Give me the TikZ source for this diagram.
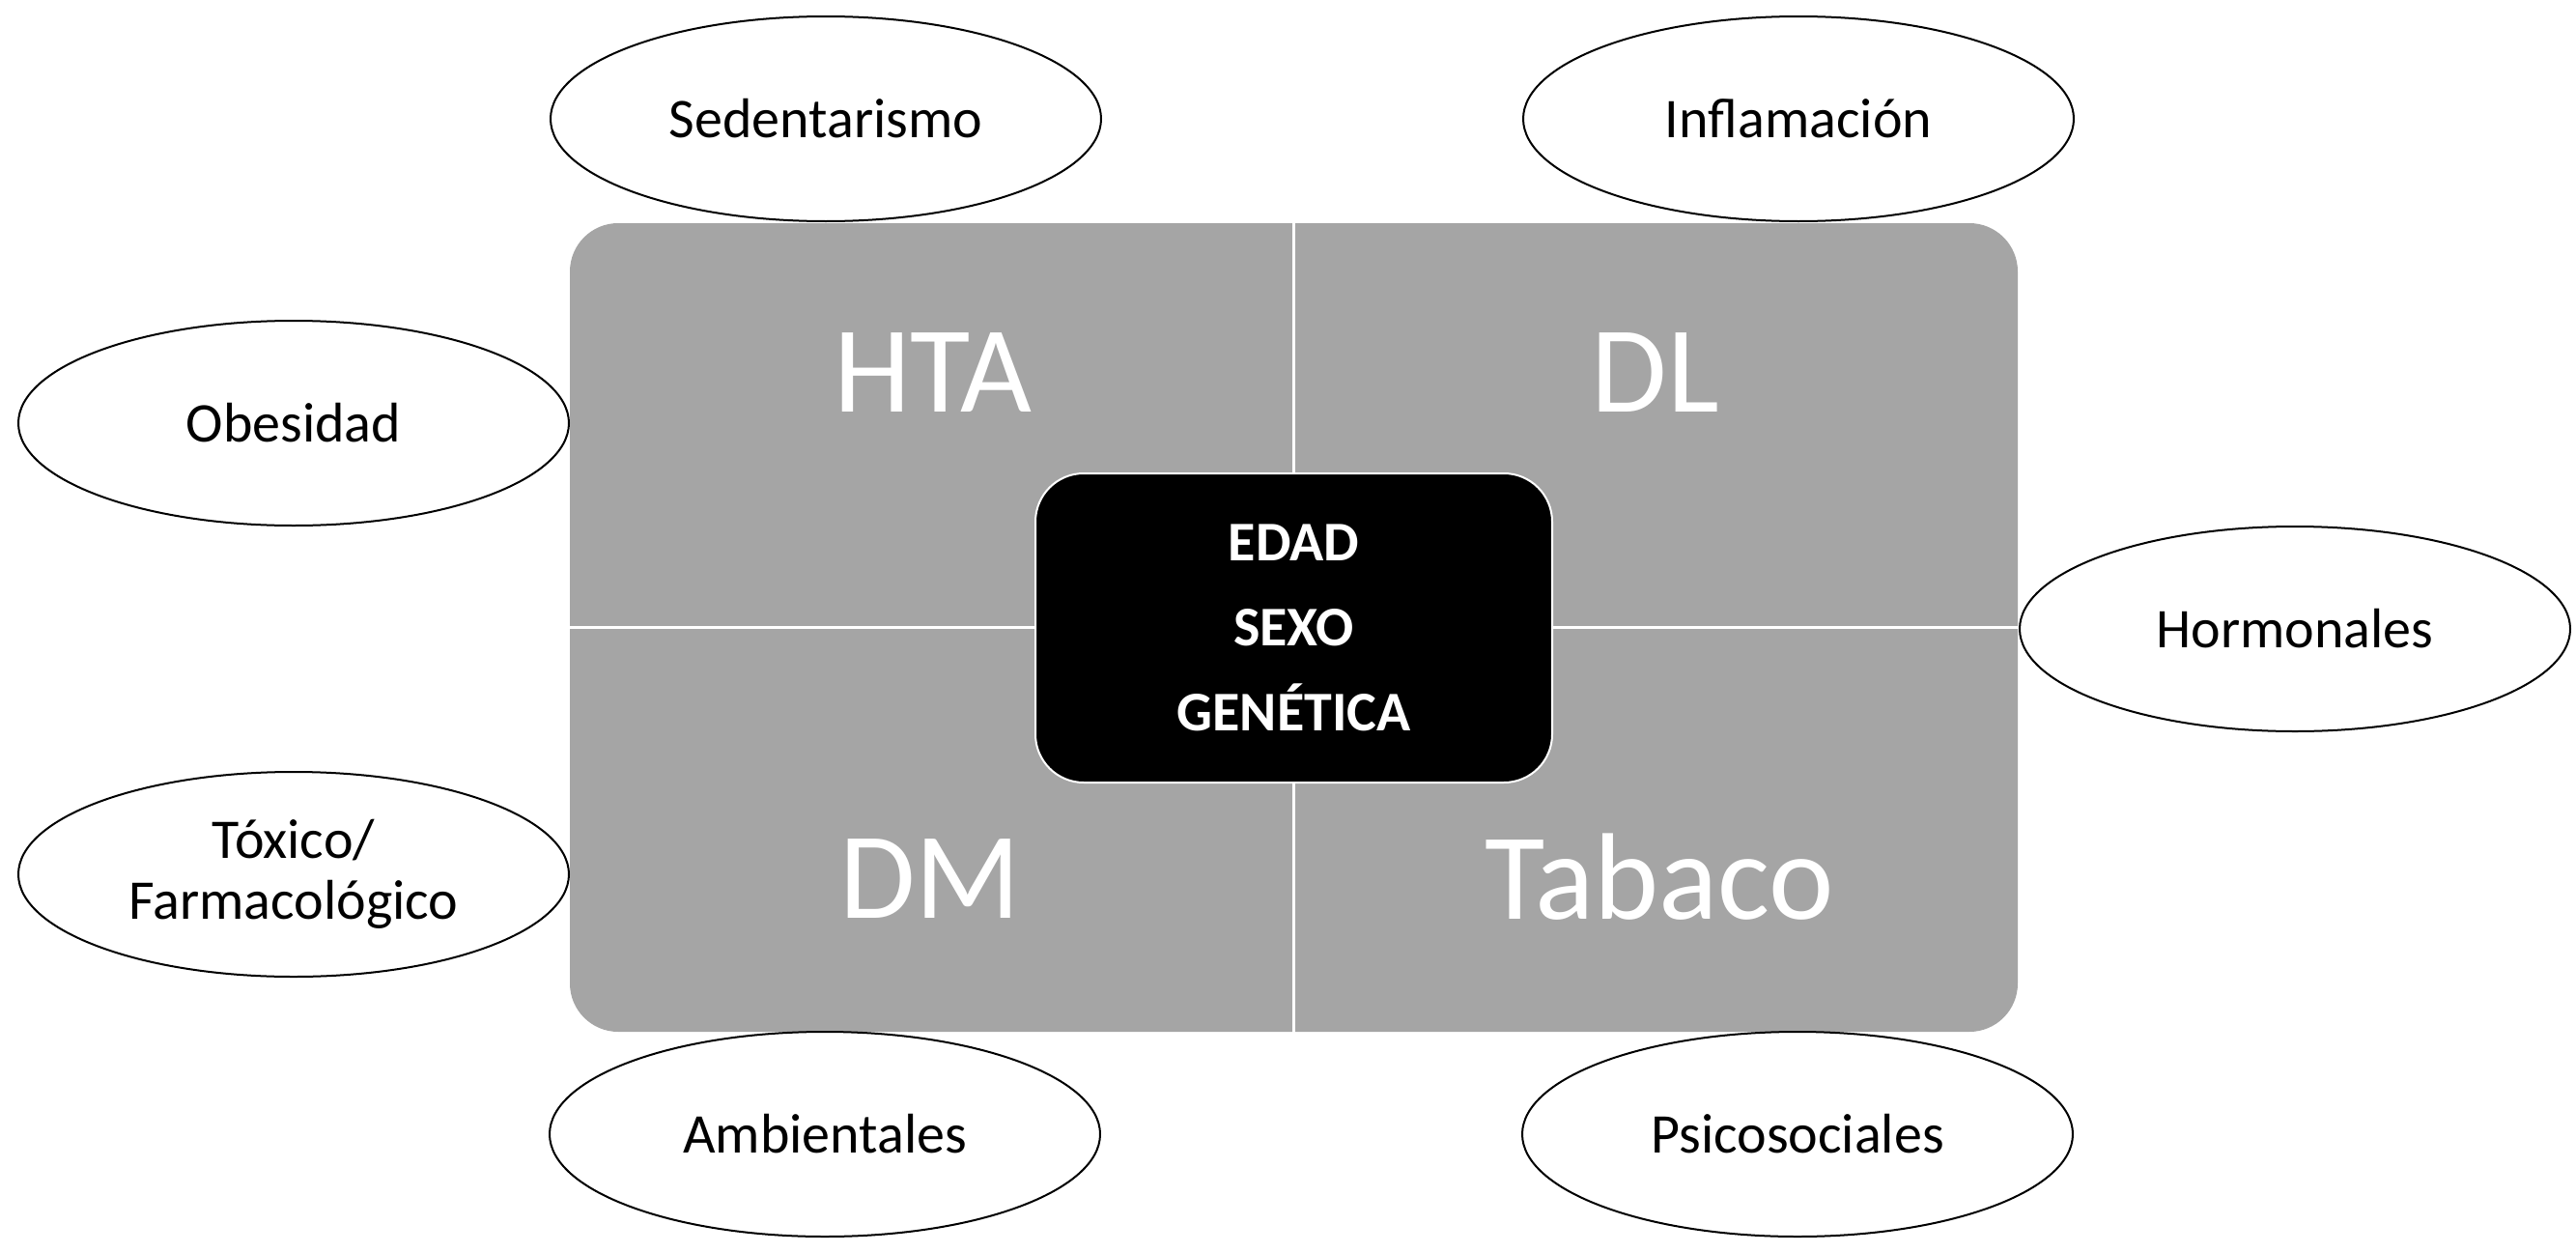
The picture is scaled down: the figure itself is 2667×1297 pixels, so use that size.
\documentclass[tikz,border=0pt]{standalone}
\usepackage{fontspec}
\setmainfont{Carlito}
\usetikzlibrary{shapes.geometric}
\definecolor{panelgray}{HTML}{A5A5A5}
\begin{document}
\begin{tikzpicture}[x=0.3pt,y=-0.3pt,
  factor/.style={ellipse, draw=black, line width=0.6pt, fill=white,
    minimum width=171pt, minimum height=63.6pt, inner sep=0pt,
    font=\fontsize{17.4}{19}\selectfont, align=center},
  bigtxt/.style={text=white, inner sep=0pt, font=\fontsize{38.3}{42}\selectfont},
  panelbox/.style={fill=panelgray, rounded corners=15pt, minimum width=449.7pt,
    minimum height=251.1pt, inner sep=0pt},
  corebox/.style={fill=black, draw=white, line width=0.6pt, rounded corners=15pt,
    minimum width=160.5pt, minimum height=96pt, inner sep=0pt, text=white,
    align=center, font=\bfseries\fontsize{17.4}{26.4}\selectfont},
  divider/.style={draw=white, line width=0.8pt}
  ]
\useasboundingbox (0,0) rectangle (2667,1297);
\node[panelbox] (panel) at (1339.5,649.5) {};
\draw[divider] (panel.north) -- (panel.south);
\draw[divider] (panel.west) -- (panel.east);
\node[corebox] (core) at (1339.5,650) {EDAD\\SEXO\\GENÉTICA};
\node[bigtxt] (hta) at (966,386) {HTA};
\node[bigtxt] (dl) at (1714,386) {DL};
\node[bigtxt] (dm) at (963,910) {DM};
\node[bigtxt] (tab) at (1718,908) {Tabaco};
\node[factor] (sed) at (855,123) {Sedentarismo};
\node[factor] (inf) at (1862,123) {Inflamación};
\node[factor] (obe) at (304,438) {Obesidad};
\node[factor] (hor) at (2376,651) {Hormonales};
\node[factor] (tox) at (304,905) {Tóxico/\\Farmacológico};
\node[factor] (amb) at (854,1174) {Ambientales};
\node[factor] (psi) at (1861,1174) {Psicosociales};
\end{tikzpicture}
\end{document}
